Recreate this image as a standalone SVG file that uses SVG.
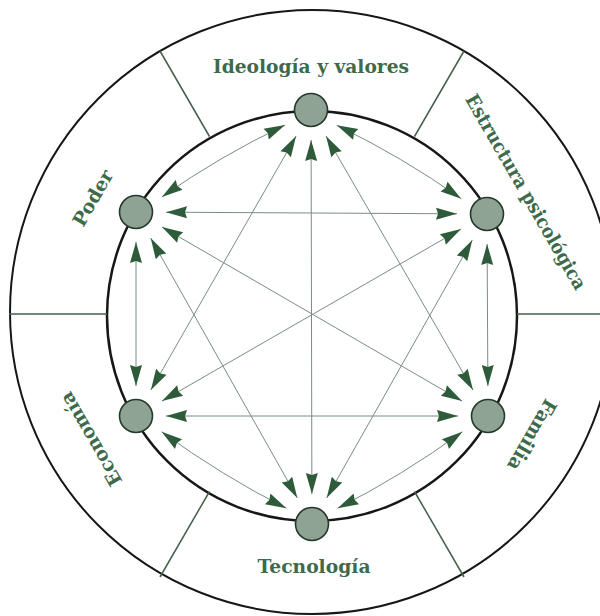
<svg xmlns="http://www.w3.org/2000/svg" width="600" height="616" viewBox="0 0 600 616">
<style>
.ring{fill:none;stroke:#161816}
.spoke{stroke:#44604b;stroke-width:1.5}
.node{fill:#8fa394;stroke:#263a2c;stroke-width:1.6}
.con{fill:none;stroke:#7a8d81;stroke-width:1;marker-start:url(#ah);marker-end:url(#ah)}
.lbl{font-family:"DejaVu Serif","Liberation Serif",serif;font-weight:bold;font-size:19px;fill:#3d6a4a;text-anchor:middle}
</style>
<defs>
<marker id="ah" viewBox="-22 -7 22 14" refX="0" refY="0" markerWidth="22" markerHeight="14" markerUnits="userSpaceOnUse" orient="auto-start-reverse">
<path d="M0,0 L-21,-6 L-19,0 L-21,6 Z" fill="#2e5c3b"/>
</marker>
</defs>
<rect width="600" height="616" fill="#ffffff"/>
<g id="frame">
<circle class="ring" cx="312" cy="312" r="302" stroke-width="2"/>
<circle class="ring" cx="312" cy="316" r="205" stroke-width="2.5"/>
<line class="spoke" x1="107" y1="314" x2="9" y2="314"/>
<line class="spoke" x1="517" y1="314" x2="600" y2="314"/>
<line class="spoke" x1="209.5" y1="136.5" x2="160" y2="51"/>
<line class="spoke" x1="414.5" y1="136.5" x2="464" y2="51"/>
<line class="spoke" x1="209.5" y1="491.5" x2="160" y2="577"/>
<line class="spoke" x1="414.5" y1="491.5" x2="464" y2="577"/>
</g>
<g id="connectors">
<path class="con" d="M336.8,125.3 Q402,156.8 461.2,198.7"/>
<path class="con" d="M326,136 L473,390"/>
<path class="con" d="M311.1,140 L311.9,494"/>
<path class="con" d="M296.1,136 L150.9,390"/>
<path class="con" d="M285.1,125.1 Q220.5,155.8 161.9,196.9"/>
<path class="con" d="M487.1,244 L487.9,386"/>
<path class="con" d="M472.3,240.1 L326.7,497.9"/>
<path class="con" d="M461,229 L162,401"/>
<path class="con" d="M457,213.8 L166,212.2"/>
<path class="con" d="M462.4,431.7 Q403,475.2 337.6,508.3"/>
<path class="con" d="M458,416 L166,416"/>
<path class="con" d="M462,401 L162,227"/>
<path class="con" d="M286.4,508.3 Q221,475.2 161.6,431.7"/>
<path class="con" d="M297.3,497.9 L150.7,238.1"/>
<path class="con" d="M136,386 L136,242"/>
</g>
<g id="ideologia"><circle class="node" cx="311" cy="110" r="16.5"/><text class="lbl" x="311" y="73" textLength="196" lengthAdjust="spacingAndGlyphs">Ideología y valores</text></g>
<g id="estructura"><circle class="node" cx="487" cy="214" r="16.5"/><text class="lbl" transform="translate(526,192) rotate(60)" x="0" y="6.5" textLength="222" lengthAdjust="spacingAndGlyphs">Estructura psicológica</text></g>
<g id="familia"><circle class="node" cx="488" cy="416" r="16.5"/><text class="lbl" transform="translate(532,435) rotate(120)" x="0" y="6.5">Familia</text></g>
<g id="tecnologia"><circle class="node" cx="312" cy="524" r="16.5"/><text class="lbl" x="314" y="573" textLength="113" lengthAdjust="spacingAndGlyphs">Tecnología</text></g>
<g id="economia"><circle class="node" cx="136" cy="416" r="16.5"/><text class="lbl" transform="translate(91,439) rotate(-120)" x="0" y="6.5">Economía</text></g>
<g id="poder"><circle class="node" cx="136" cy="212" r="16.5"/><text class="lbl" transform="translate(93,198) rotate(-60)" x="0" y="6.5">Poder</text></g>
</svg>
